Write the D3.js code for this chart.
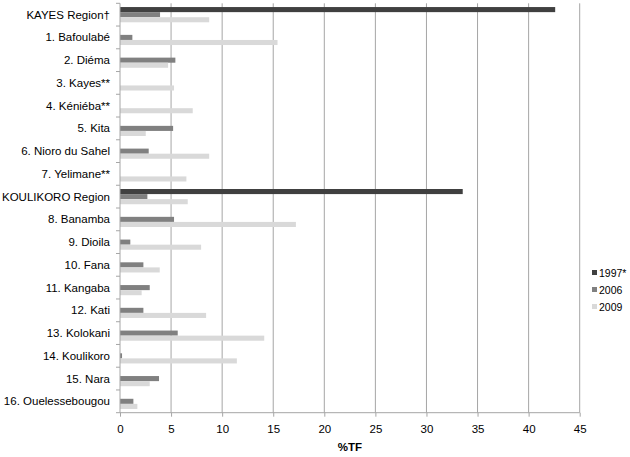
<!DOCTYPE html>
<html><head><meta charset="utf-8">
<script src="https://cdn.jsdelivr.net/npm/d3@7"></script>
<style>body{margin:0;background:#fff}svg{display:block;font-family:"Liberation Sans",Arial,sans-serif}</style>
</head><body>
<svg id="c" width="630" height="457"></svg>
<script>
const categories = ["KAYES Region†","1. Bafoulabé","2. Diéma","3. Kayes**","4. Kéniéba**","5. Kita","6. Nioro du Sahel","7. Yelimane**","KOULIKORO Region","8. Banamba","9. Dioila","10. Fana","11. Kangaba","12. Kati","13. Kolokani","14. Koulikoro","15. Nara","16. Ouelessebougou"];
const seriesNames = ["1997*","2006","2009"];
const v1997 = [42.6,null,null,null,null,null,null,null,33.55,null,null,null,null,null,null,null,null,null];
const v2006 = [3.92,1.21,5.42,null,null,5.2,2.81,null,2.68,5.29,1.01,2.29,2.91,2.29,5.65,0.2,3.82,1.31];
const v2009 = [8.73,15.42,4.71,5.29,7.12,2.52,8.73,6.5,6.63,17.22,7.94,3.89,2.12,8.43,14.12,11.44,2.91,1.7];
const xTicks = [0,5,10,15,20,25,30,35,40,45];
const colors = ["#404040","#808080","#d9d9d9"];

(function(){
const svg = d3.select("#c");
const pL = 120, pR = 579.7, pT = 3.3, pB = 412.7;
const x = d3.scaleLinear().domain([0,45]).range([pL,pR]);
const y = d3.scaleBand().domain(categories).range([pT,pB]).paddingInner(0.33).paddingOuter(0.165);
const ySub = d3.scaleBand().domain(seriesNames).range([0,y.bandwidth()]);
const step = y.step();

// gridlines
svg.append("g").selectAll("line").data(xTicks.slice(1)).join("line")
  .attr("x1",d=>x(d)).attr("x2",d=>x(d)).attr("y1",pT).attr("y2",pB)
  .attr("stroke","#a6a6a6").attr("stroke-width",1);

// bars
const allSeries = [v1997,v2006,v2009];
allSeries.forEach((vals,si)=>{
  svg.append("g").selectAll("rect").data(categories.map((c,i)=>({c,v:vals[i]})).filter(d=>d.v!=null)).join("rect")
    .attr("x",x(0)).attr("width",d=>x(d.v)-x(0))
    .attr("y",d=>y(d.c)+ySub(seriesNames[si])).attr("height",ySub.bandwidth())
    .attr("fill",colors[si]);
});

// y axis line and ticks
const ax = svg.append("g").attr("stroke","#a6a6a6").attr("stroke-width",1);
ax.append("line").attr("x1",pL).attr("x2",pL).attr("y1",pT).attr("y2",pB);
ax.selectAll(".yt").data(d3.range(categories.length+1)).join("line")
  .attr("x1",pL-4).attr("x2",pL).attr("y1",i=>pT+i*step).attr("y2",i=>pT+i*step);
// x axis
const xAxis = d3.axisBottom(x).tickValues(xTicks).tickSize(4).tickPadding(8);
const xg = svg.append("g").attr("transform",`translate(0,${pB})`).call(xAxis);
xg.select(".domain").attr("stroke","#a6a6a6").attr("d",`M${pL},0H${pR}`);
xg.selectAll(".tick line").attr("stroke","#a6a6a6");
xg.selectAll(".tick text").attr("font-size","11.5px").attr("fill","#000").attr("font-family","Liberation Sans, Arial, sans-serif");

// y labels
svg.append("g").selectAll("text").data(categories).join("text")
  .attr("x",110).attr("y",d=>y(d)+y.bandwidth()/2).attr("dy","0.35em")
  .attr("text-anchor","end").attr("font-size","11.5px").attr("fill","#000").text(d=>d);

// x title
svg.append("text").attr("x",(pL+pR)/2).attr("y",451).attr("text-anchor","middle")
  .attr("font-size","11.5px").attr("font-weight","bold").text("%TF");

// legend
const lg = svg.append("g").selectAll("g").data(seriesNames).join("g")
  .attr("transform",(d,i)=>`translate(592,${273+i*17})`);
lg.append("rect").attr("x",0).attr("y",-3).attr("width",5).attr("height",5).attr("fill",(d,i)=>colors[i]);
lg.append("text").attr("x",7).attr("y",0).attr("dy","0.35em").attr("font-size","10.5px").text(d=>d);
})();
</script>
</body></html>
